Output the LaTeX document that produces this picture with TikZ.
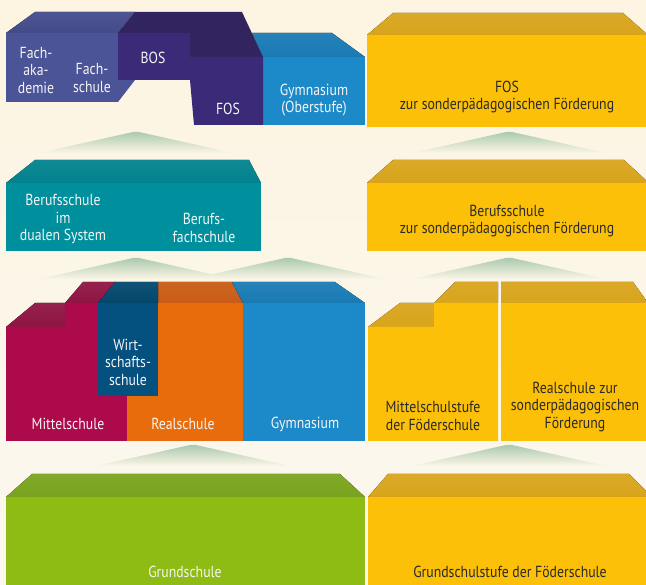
\documentclass[tikz,border=0pt]{standalone}
\usepackage{fontspec}
\setmainfont{PT Sans}[FakeStretch=0.86]
\definecolor{cBg}{HTML}{FDF4E1}
\definecolor{cBgLow}{HTML}{FBF8EF}
\definecolor{cMnt}{HTML}{ABCAAF}
\definecolor{cFak}{HTML}{4B5497}
\definecolor{cFakR}{HTML}{434A8A}
\definecolor{cBos}{HTML}{3A2A77}
\definecolor{cBosR}{HTML}{32245F}
\definecolor{cGym}{HTML}{1C89C8}
\definecolor{cGymR}{HTML}{197AB4}
\definecolor{cYel}{HTML}{FBC007}
\definecolor{cYelR}{HTML}{D8A41B}
\definecolor{cTeal}{HTML}{00909D}
\definecolor{cTealR}{HTML}{00828D}
\definecolor{cMit}{HTML}{AD0A4C}
\definecolor{cMitR}{HTML}{8E1442}
\definecolor{cWir}{HTML}{04507F}
\definecolor{cWirR}{HTML}{03466D}
\definecolor{cReal}{HTML}{E86C0C}
\definecolor{cRealR}{HTML}{C95C15}
\definecolor{cGrn}{HTML}{8FBC14}
\definecolor{cGrnR}{HTML}{79A31D}
\definecolor{cDark}{HTML}{2A2A2A}
\begin{document}
\begin{tikzpicture}[x=1pt,y=-1pt,
    roof/.style={top color=#1!94!white,bottom color=#1},
    mountain/.style={top color=cMnt,middle color=cMnt!80!cBg,bottom color=cBg!60!cBgLow},
    lbl/.style={align=center,text=white!96!black,inner sep=0pt,font=\fontsize{16}{17.5}\selectfont},
    dlbl/.style={lbl,text=cDark}]
    \useasboundingbox (0,0) rectangle (646,585);
    \clip (0,0) rectangle (646,585);
    \shade [top color=cBg,bottom color=cBgLow] (0,0) rectangle (646,585);
    % hills between the rows
    \foreach \x/\y in {136/132,509/132,136/258,288/258,509/258,193/445,509/445}
        \shade [mountain] (\x-97,\y+21) -- (\x-3,\y) -- (\x+3,\y) -- (\x+97,\y+21) -- cycle;
    % top row
    \fill [roof=cFakR] (6,33) -- (35,12) -- (135,12) -- (118,33) -- cycle;
    \fill [cFak] (6,33) rectangle (118,102);
    \fill [cFak] (118,80) -- (135,80) -- (118,102) -- cycle;
    \fill [roof=cGymR] (252,33) -- (332,33) -- (365,57) -- (263,57) -- cycle;
    \fill [cGym] (263,57) rectangle (365,125);
    \fill [cBosR] (118,33) -- (135,12) -- (242,12) -- (263,57) -- (190,57) -- (190,33) -- cycle;
    \fill [cBos] (118,33) rectangle (190,80);
    \fill [cBos] (190,57) -- (263,57) -- (263,125) -- (194,125) -- (190,80) -- cycle;
    \fill [roof=cYelR] (367,35) -- (393,13) -- (623,13) -- (648,35) -- cycle;
    \fill [cYel] (367,35) rectangle (646,127);
    \node [lbl] (fak) at (36,70) {Fach-\\aka-\\demie};
    \node [lbl] (fs) at (92,78) {Fach-\\schule};
    \node [lbl] (bos) at (153,58) {BOS};
    \node [lbl] (fos) at (228,109) {FOS};
    \node [lbl] (gymo) at (314,100) {Gymnasium\\(Oberstufe)};
    \node [dlbl] (fosf) at (507,97) {FOS\\zur sonderpädagogischen Förderung};
    % second row
    \fill [roof=cTealR] (6,183) -- (35,160) -- (249,160) -- (261,183) -- cycle;
    \fill [cTeal] (6,183) rectangle (261,251);
    \fill [roof=cYelR] (367,183) -- (393,160) -- (624,160) -- (649,183) -- cycle;
    \fill [cYel] (367,183) rectangle (646,251);
    \node [lbl] (bsd) at (63,219) {Berufsschule\\im\\dualen System};
    \node [lbl] (bfs) at (204,228) {Berufs-\\fachschule};
    \node [dlbl] (bsf) at (507,221) {Berufsschule\\zur sonderpädagogischen Förderung};
    % third row
    \fill [roof=cMitR] (6,327) -- (35,303) -- (65,303) -- (65,327) -- cycle;
    \fill [roof=cMitR] (65,303) -- (83,282) -- (115,282) -- (98,303) -- cycle;
    \fill [cMit] (6,327) -- (65,327) -- (65,303) -- (127,303) -- (127,441) -- (6,441) -- cycle;
    \fill [roof=cRealR] (158,282) -- (232,282) -- (243,303) -- (158,303) -- cycle;
    \fill [cReal] (127,303) rectangle (243,441);
    \fill [roof=cGymR] (232,282) -- (335,282) -- (365,303) -- (243,303) -- cycle;
    \fill [cGym] (243,303) rectangle (365,441);
    \fill [roof=cWirR] (98,303) -- (115,282) -- (158,282) -- (158,303) -- cycle;
    \fill [cWir] (98,303) rectangle (158,396);
    \fill [roof=cYelR] (368,327) -- (400,303) -- (434,303) -- (434,327) -- cycle;
    \fill [roof=cYelR] (434,303) -- (455,282) -- (498,282) -- (498,303) -- cycle;
    \fill [cYel] (368,327) -- (434,327) -- (434,303) -- (498,303) -- (498,441) -- (368,441) -- cycle;
    \fill [roof=cYelR] (501,303) -- (501,282) -- (633,282) -- (648,303) -- cycle;
    \fill [cYel] (501,303) rectangle (646,441);
    \node [lbl] (wir) at (128,362) {Wirt-\\schafts-\\schule};
    \node [lbl] (mit) at (68,424) {Mittelschule};
    \node [lbl] (real) at (183,424) {Realschule};
    \node [lbl] (gym) at (305,424) {Gymnasium};
    \node [dlbl] (mitf) at (433,416) {Mittelschulstufe\\der Föderschule};
    \node [dlbl] (realf) at (575,407) {Realschule zur\\sonderpädagogischen\\Förderung};
    % bottom row
    \fill [roof=cGrnR] (6,497) -- (32,474) -- (340,474) -- (365,497) -- cycle;
    \fill [cGrn] (6,497) rectangle (365,586);
    \fill [roof=cYelR] (368,497) -- (388,474) -- (629,474) -- (652,497) -- cycle;
    \fill [cYel] (368,497) rectangle (646,586);
    \node [lbl] (gs) at (185,572) {Grundschule};
    \node [dlbl] (gsf) at (510,572) {Grundschulstufe der Föderschule};
\end{tikzpicture}
\end{document}
